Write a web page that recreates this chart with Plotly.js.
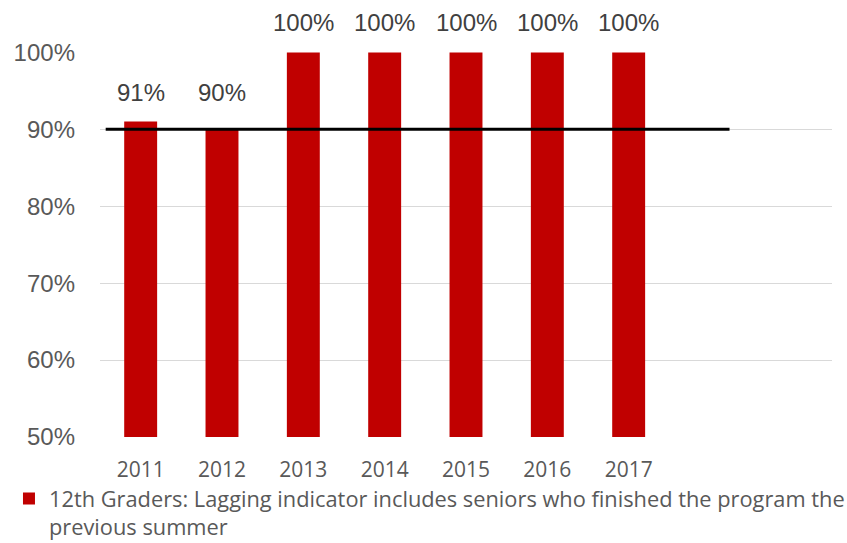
<!DOCTYPE html>
<html><head><meta charset="utf-8">
<script src="https://cdn.plot.ly/plotly-3.0.1.min.js"></script>
<style>html,body{margin:0;padding:0;background:#fff}#chart{width:847px;height:543px}</style>
</head><body><div id="chart"></div>
<script>
const years = ['2011','2012','2013','2014','2015','2016','2017'];
const rates = [0.91, 0.90, 1.00, 1.00, 1.00, 1.00, 1.00];
const target = [0.90];
const seriesName = '12th Graders: Lagging indicator includes seniors who finished the program the<br>previous summer';
const yTicks = [0.5, 0.6, 0.7, 0.8, 0.9, 1.0];
const yTickText = ['50%','60%','70%','80%','90%','100%'];
// label offsets above bar tops (px), style only
const labelShifts = [29, 37, 30, 30, 30, 30, 30];

const bar = {
  type: 'bar', x: years, y: rates, name: seriesName,
  marker: {color: '#C00000'}, hoverinfo: 'none', cliponaxis: false
};

const annotations = years.map((yr, i) => ({
  x: i, y: rates[i], xref: 'x', yref: 'y',
  text: Math.round(rates[i]*100) + '%', showarrow: false,
  xanchor: 'center', yanchor: 'middle', yshift: labelShifts[i],
  font: {family: 'Liberation Sans', size: 24, color: '#404040'}
}));

const layout = {
  width: 847, height: 543,
  margin: {l: 100, r: 15, t: 52, b: 106},
  paper_bgcolor: '#fff', plot_bgcolor: '#fff',
  bargap: 0.595,
  showlegend: true,
  legend: {orientation: 'h', xref: 'container', yref: 'container',
    x: 0.0106, xanchor: 'left', y: 0.12, yanchor: 'top', valign: 'top',
    font: {family: 'Open Sans', size: 21.8, color: '#595959'},
    itemwidth: 30, bgcolor: 'rgba(0,0,0,0)'},
  xaxis: {type: 'category', categoryorder: 'array', categoryarray: years,
    range: [-0.5, 8.5], showgrid: false, zeroline: false, showline: false,
    ticks: '', ticklabelstandoff: 18,
    tickfont: {family: 'Open Sans', size: 21, color: '#595959'}},
  yaxis: {range: [0.5, 1.0005], tickvals: yTicks, ticktext: yTickText,
    showgrid: true, gridcolor: '#d9d9d9', gridwidth: 1, zeroline: false, showline: false,
    ticks: '', ticklabelstandoff: 24,
    tickfont: {family: 'Liberation Sans', size: 24, color: '#595959'}},
  shapes: target.map(t => ({type: 'line', xref: 'x', yref: 'y', x0: -0.43, x1: 7.24, y0: t, y1: t,
    line: {color: '#000', width: 3}})),
  annotations: annotations
};

Plotly.newPlot('chart', [bar], layout, {displayModeBar: false, staticPlot: true});
</script></body></html>
